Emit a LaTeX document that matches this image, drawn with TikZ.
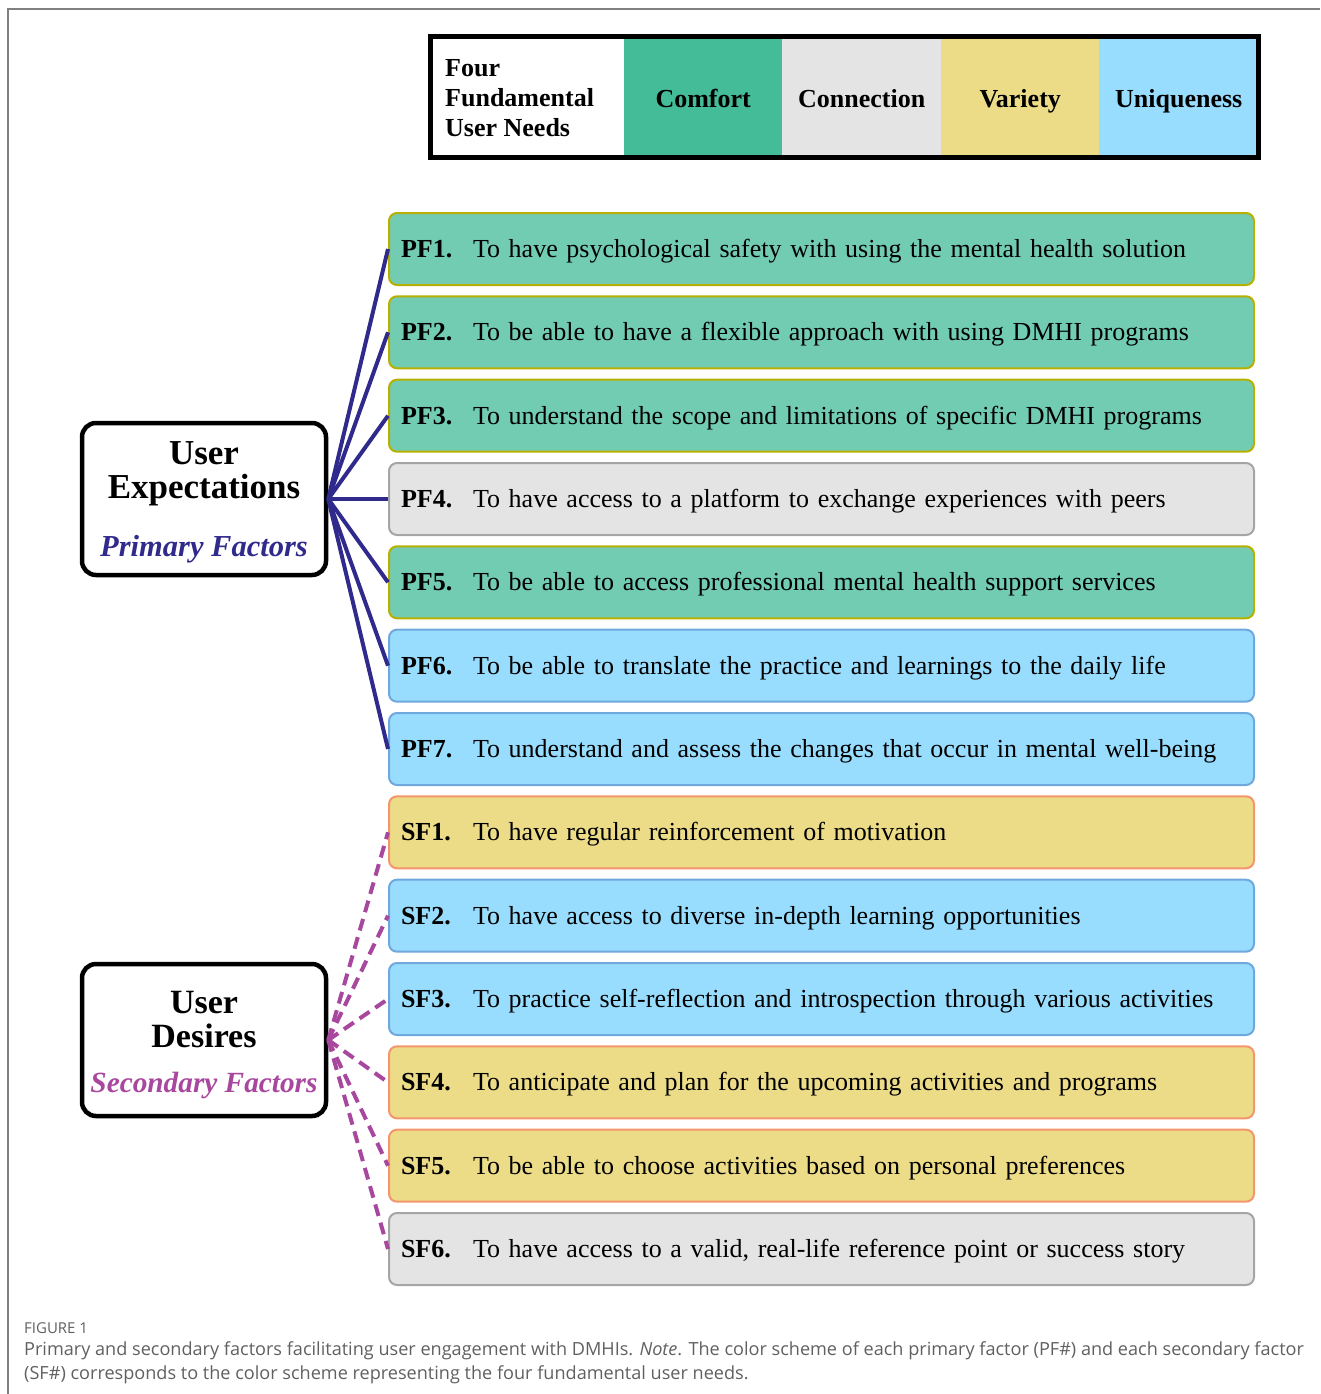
\documentclass[tikz,border=0pt]{standalone}
\usepackage{fontspec}
\setmainfont{Liberation Serif}
\newfontfamily\capfont{Open Sans}
\definecolor{comfL}{HTML}{45BC98}
\definecolor{comfF}{HTML}{72CCB2}
\definecolor{comfD}{HTML}{B8B000}
\definecolor{grayF}{HTML}{E4E4E4}
\definecolor{grayD}{HTML}{A5A5A5}
\definecolor{varF}{HTML}{ECDC88}
\definecolor{varD}{HTML}{F4956B}
\definecolor{uniF}{HTML}{99DDFE}
\definecolor{uniD}{HTML}{6FA8DC}
\definecolor{primC}{HTML}{2F2A8B}
\definecolor{secC}{HTML}{A8479E}
\definecolor{capC}{HTML}{606060}
\begin{document}
\begin{tikzpicture}[x=1pt,y=-1pt,
  factor/.style={draw, rounded corners=8pt, line width=2pt, minimum width=865pt,
    minimum height=72pt, anchor=west, text width=841pt, align=left, inner xsep=12pt,
    inner ysep=0pt, text height=17pt, text depth=0pt, font=\fontsize{26}{30}\selectfont},
  comfort/.style={factor, fill=comfF, draw=comfD},
  connection/.style={factor, fill=grayF, draw=grayD},
  variety/.style={factor, fill=varF, draw=varD},
  unique/.style={factor, fill=uniF, draw=uniD},
  hub/.style={draw=black, rounded corners=14pt, line width=4.5pt, minimum width=244pt, minimum height=152pt},
  pline/.style={draw=primC, line width=4pt},
  sline/.style={draw=secC, line width=4pt, dash pattern=on 12pt off 7pt},
  cell/.style={minimum height=120pt, inner sep=0pt, text height=20.5pt, text depth=0pt, font=\fontsize{26}{30}\selectfont\bfseries},
]
\useasboundingbox (0,0) rectangle (1320,1394);
% figure frame
\draw[gray, line width=1.2pt] (8,1394) -- (8,9) -- (1320,9);

% legend
\node[cell, fill=white, minimum width=194pt, anchor=west] (lw) at (430,97) {};
\node[cell, fill=comfL, minimum width=158pt, anchor=west] (lc) at (624,97) {Comfort};
\node[cell, fill=grayF, minimum width=159pt, anchor=west] (lcn) at (782,97) {Connection};
\node[cell, fill=varF, minimum width=158pt, anchor=west] (lv) at (941,97) {Variety};
\node[cell, fill=uniF, minimum width=159pt, anchor=west] (lu) at (1099,97) {Uniqueness};
\draw[line width=5pt] (lw.north west) rectangle (lu.south east);
\node[anchor=west, align=left, inner sep=0pt, font=\fontsize{26}{30}\selectfont\bfseries] (lt) at (445,98) {Four\\Fundamental\\User Needs};

% hubs
\node[hub] (ue) at (204,499) {};
\node[align=center, inner sep=0pt, font=\fontsize{35}{34}\selectfont\bfseries] (uet) at (204,474) {User\\Expectations};
\node[inner sep=0pt, text=primC, font=\fontsize{30.5}{32}\selectfont\bfseries\itshape] (uep) at (204,549) {Primary Factors};
\node[hub] (ud) at (204,1040) {};
\node[align=center, inner sep=0pt, font=\fontsize{34}{34}\selectfont\bfseries] (udt) at (204,1020) {User\\Desires};
\node[inner sep=0pt, text=secC, font=\fontsize{29.3}{32}\selectfont\bfseries\itshape] (uds) at (204,1085) {Secondary Factors};

% factors
\newcommand{\lab}[1]{\makebox[72pt][l]{\bfseries #1}}
\node[comfort] (pf1) at (388,249) {\lab{PF1.}To have psychological safety with using the mental health solution};
\node[comfort] (pf2) at (388,332.3) {\lab{PF2.}To be able to have a flexible approach with using DMHI programs};
\node[comfort] (pf3) at (388,415.7) {\lab{PF3.}To understand the scope and limitations of specific DMHI programs};
\node[connection] (pf4) at (388,499) {\lab{PF4.}To have access to a platform to exchange experiences with peers};
\node[comfort] (pf5) at (388,582.3) {\lab{PF5.}To be able to access professional mental health support services};
\node[unique] (pf6) at (388,665.7) {\lab{PF6.}To be able to translate the practice and learnings to the daily life};
\node[unique] (pf7) at (388,749) {\lab{PF7.}To understand and assess the changes that occur in mental well-being};
\node[variety] (sf1) at (388,832.3) {\lab{SF1.}To have regular reinforcement of motivation};
\node[unique] (sf2) at (388,915.7) {\lab{SF2.}To have access to diverse in-depth learning opportunities};
\node[unique] (sf3) at (388,999) {\lab{SF3.}To practice self-reflection and introspection through various activities};
\node[variety] (sf4) at (388,1082.3) {\lab{SF4.}To anticipate and plan for the upcoming activities and programs};
\node[variety] (sf5) at (388,1165.7) {\lab{SF5.}To be able to choose activities based on personal preferences};
\node[connection] (sf6) at (388,1249) {\lab{SF6.}To have access to a valid, real-life reference point or success story};

% connectors
\foreach \t in {pf1,pf2,pf3,pf4,pf5,pf6,pf7} \draw[pline] (ue.east) -- (\t.west);
\foreach \t in {sf1,sf2,sf3,sf4,sf5,sf6} \draw[sline] (ud.east) -- (\t.west);

% caption
\node[anchor=west, inner sep=0pt, text=capC, font=\capfont\fontsize{15}{18}\selectfont] (fig) at (24,1328) {FIGURE 1};
\node[anchor=west, inner sep=0pt, text=capC, font=\capfont\fontsize{18.1}{22}\selectfont] (cap1) at (24,1351) {Primary and secondary factors facilitating user engagement with DMHIs. \textit{Note}. The color scheme of each primary factor (PF\#) and each secondary factor};
\node[anchor=west, inner sep=0pt, text=capC, font=\capfont\fontsize{18.1}{22}\selectfont] (cap2) at (24,1375) {(SF\#) corresponds to the color scheme representing the four fundamental user needs.};
\end{tikzpicture}
\end{document}
